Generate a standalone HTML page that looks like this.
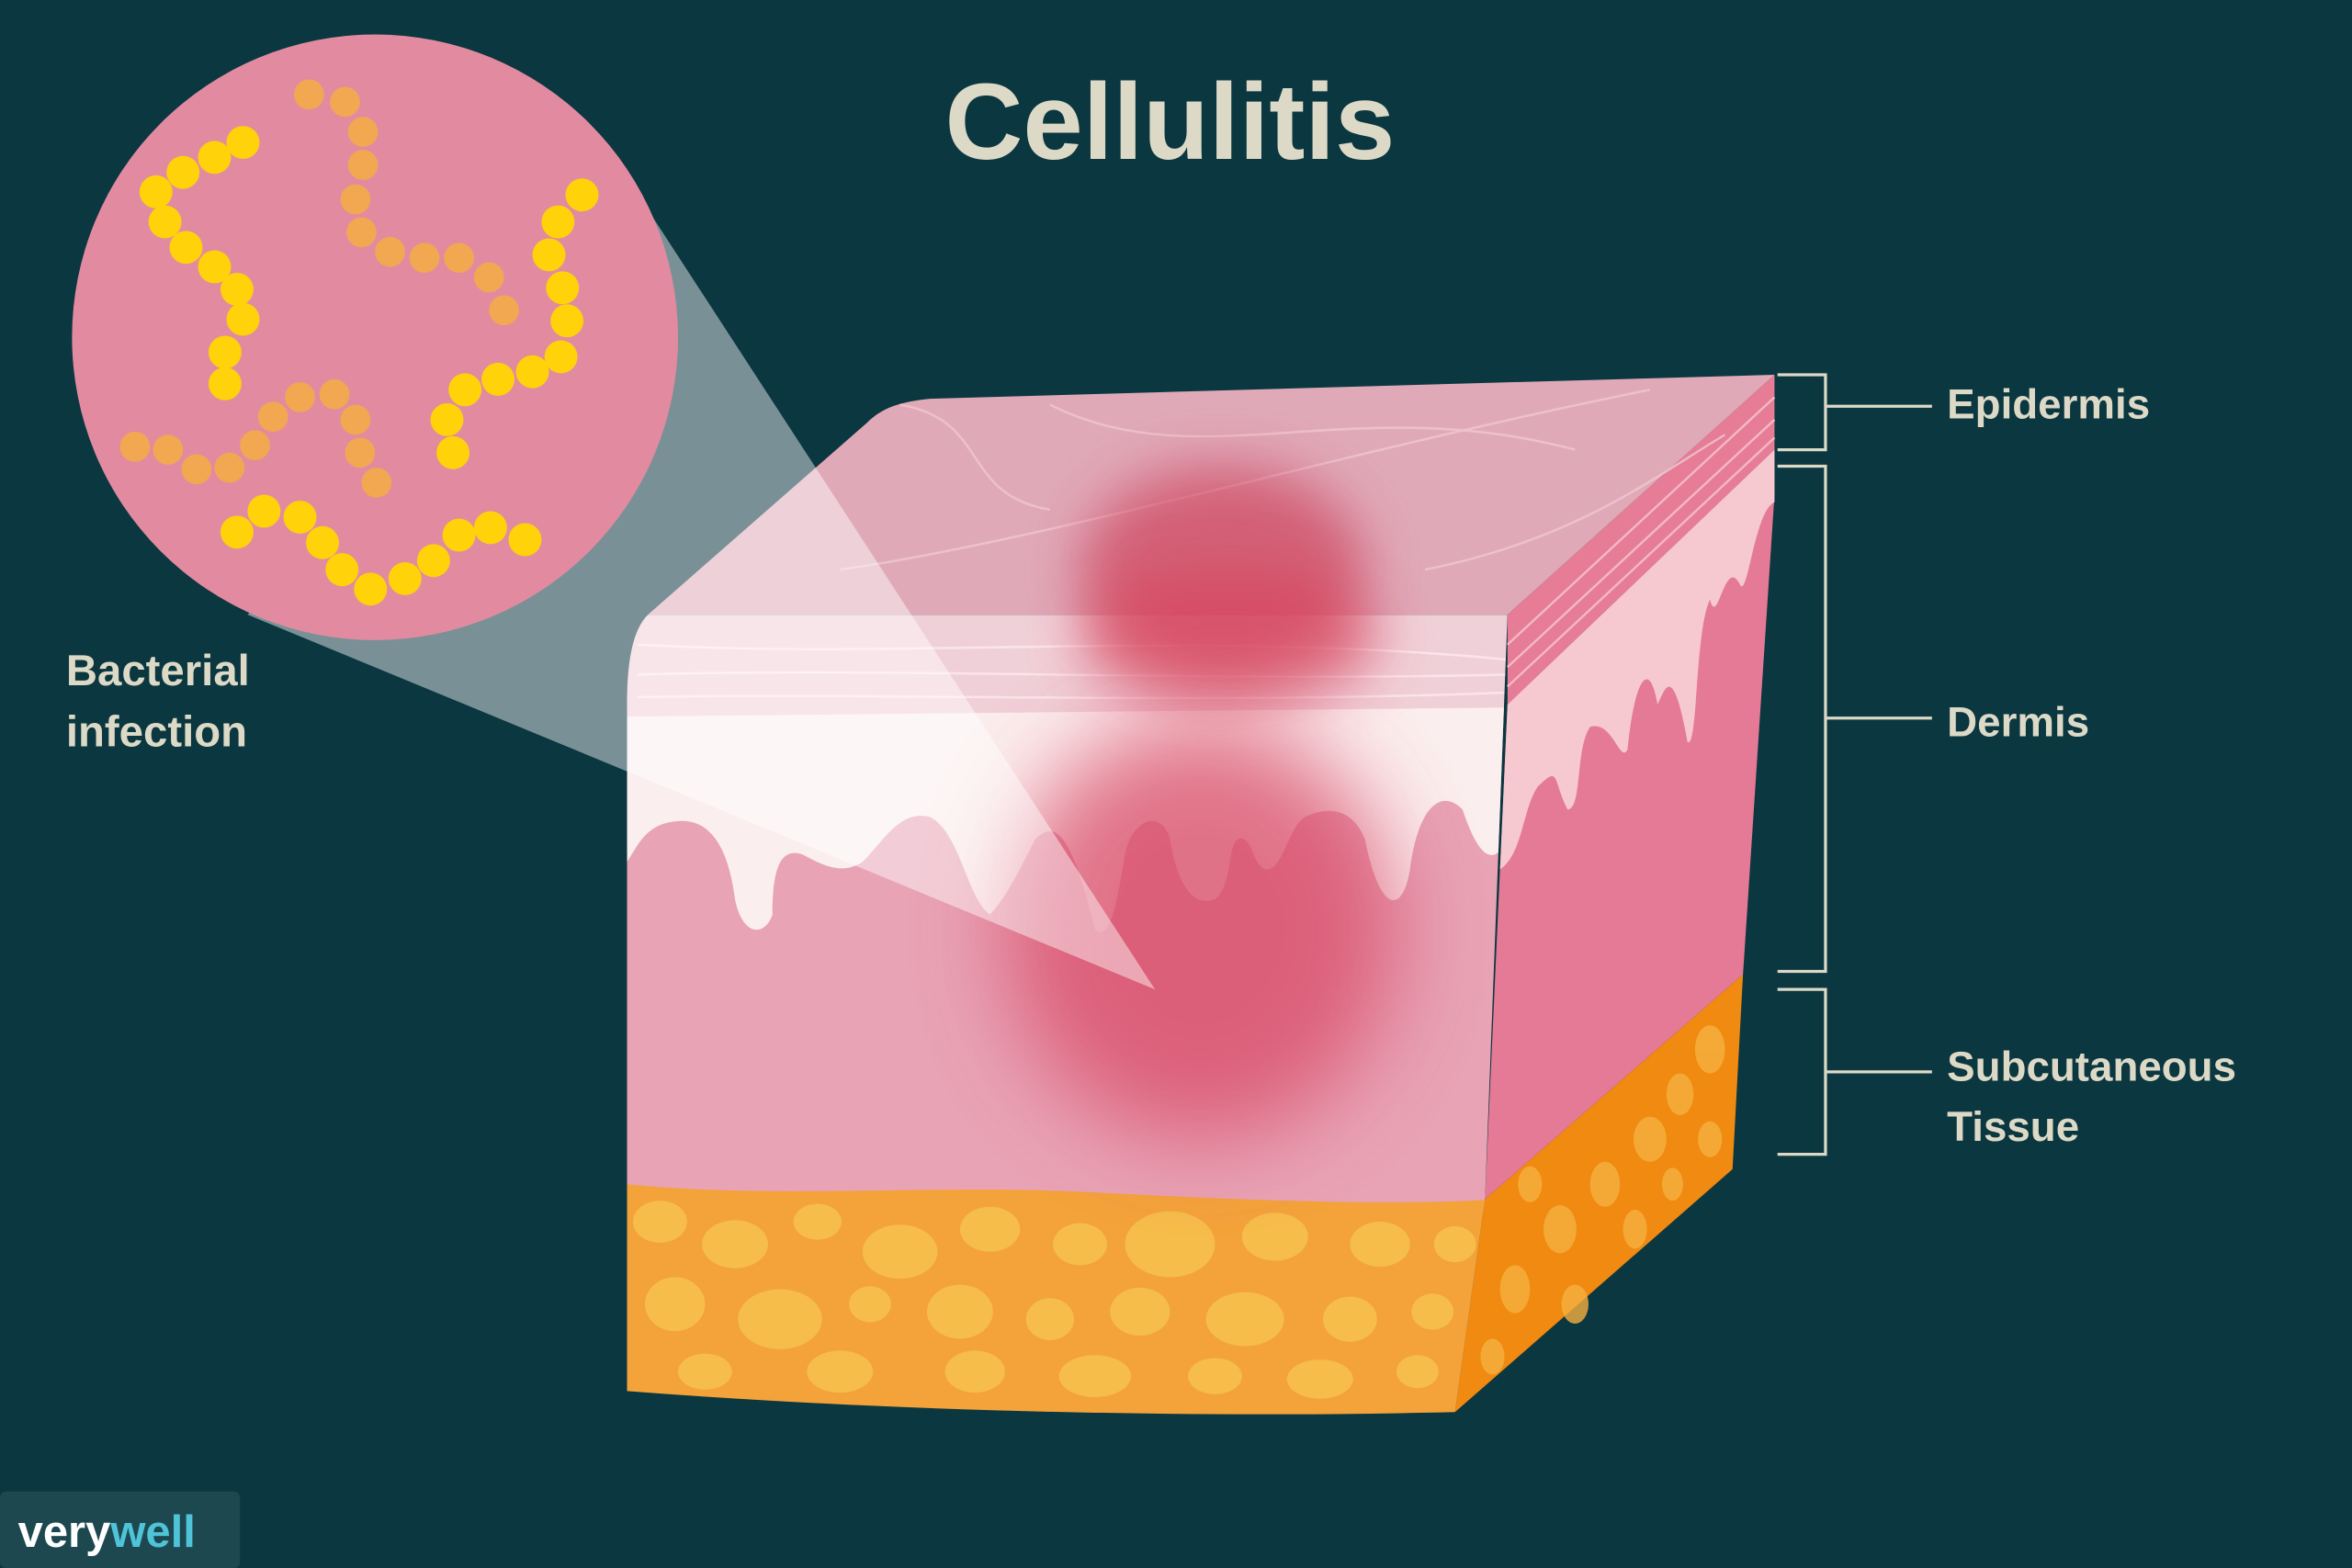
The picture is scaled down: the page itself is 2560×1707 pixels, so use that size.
<!DOCTYPE html>
<html><head><meta charset="utf-8"><style>
html,body{margin:0;padding:0;background:#0b3740;}
svg{display:block}
text{font-family:"Liberation Sans",sans-serif;font-weight:bold;fill:#dcd9c7}
</style></head><body>
<svg width="2560" height="1707" viewBox="0 0 1568 1046" preserveAspectRatio="none" xmlns="http://www.w3.org/2000/svg">
<defs>
<filter id="b1" x="-50%" y="-50%" width="200%" height="200%"><feGaussianBlur stdDeviation="30"/></filter>
<filter id="b2" x="-50%" y="-50%" width="200%" height="200%"><feGaussianBlur stdDeviation="18"/></filter>
<clipPath id="front"><path d="M432,410 L1005,410 L990,800 L970,942 C800,946 600,942 418,928 L418,470 C418,440 422,420 432,410 Z"/></clipPath>
</defs>
<rect width="1568" height="1046" fill="#0b3740"/>
<text x="780" y="106" font-size="72" text-anchor="middle">Cellulitis</text>

<!-- right face -->
<polygon points="1005,410 1183,250 1183,300 1005,470" fill="#e67c95"/>
<g stroke="#f3b8c6" stroke-width="1.5" fill="none">
<line x1="1005" y1="430" x2="1183" y2="265"/><line x1="1005" y1="445" x2="1183" y2="280"/><line x1="1005" y1="458" x2="1183" y2="292"/>
</g>
<polygon points="1005,470 1183,300 1183,330 1162,650 990,800" fill="#e47a95"/>
<path d="M1005,470 L1183,300 L1183,335 C1170,340 1165,400 1160,390 C1150,370 1145,420 1140,400 C1130,420 1132,500 1125,495 C1115,440 1110,460 1105,470 C1100,440 1090,450 1085,500 C1080,510 1075,480 1060,485 C1050,500 1055,540 1045,540 C1035,520 1040,510 1025,525 C1015,540 1015,570 1000,580 Z" fill="#f6c8d0"/>
<polygon points="990,800 1162,650 1155,780 970,942" fill="#f08a10"/>
<g fill="#f6b040" opacity="0.8">
<ellipse cx="1140" cy="700" rx="10" ry="16"/><ellipse cx="1120" cy="730" rx="9" ry="14"/><ellipse cx="1100" cy="760" rx="11" ry="15"/><ellipse cx="1140" cy="760" rx="8" ry="12"/><ellipse cx="1070" cy="790" rx="10" ry="15"/><ellipse cx="1040" cy="820" rx="11" ry="16"/><ellipse cx="1090" cy="820" rx="8" ry="13"/><ellipse cx="1010" cy="860" rx="10" ry="16"/><ellipse cx="1050" cy="870" rx="9" ry="13"/><ellipse cx="995" cy="905" rx="8" ry="12"/><ellipse cx="1020" cy="790" rx="8" ry="12"/><ellipse cx="1115" cy="790" rx="7" ry="11"/>
</g>

<!-- top face -->
<path d="M432,410 L578,282 C588,272 600,268 620,266 L1183,250 L1005,410 Z" fill="#e0a9b8"/>
<g stroke="#f0c8d2" stroke-width="1.5" fill="none" opacity="0.8">
<path d="M600,270 C660,280 640,330 700,340"/><path d="M560,380 C700,360 900,300 1100,260"/><path d="M700,270 C800,320 900,260 1050,300"/><path d="M950,380 C1050,360 1100,320 1150,290"/>
</g>

<!-- front face -->
<g clip-path="url(#front)">
<rect x="418" y="405" width="590" height="75" fill="#f0d0d8"/>
<rect x="418" y="478" width="590" height="330" fill="#e8a3b5"/>
<path d="M418,478 L1005,472 L1005,560 C995,580 985,570 975,540 C960,525 945,540 940,580 C935,610 920,610 910,560 C900,535 880,540 870,545 C860,550 855,580 845,580 C835,580 835,555 825,560 C818,565 822,590 810,600 C795,605 785,590 780,560 C775,540 755,545 750,570 C745,600 740,630 730,620 C715,560 705,545 690,560 C680,580 670,600 660,610 C645,600 640,555 620,545 C600,540 590,560 575,575 C560,585 545,575 535,570 C520,565 515,580 515,610 C510,625 495,625 490,600 C485,560 470,545 450,548 C430,550 425,565 418,575 Z" fill="#fbeeee"/>
<g stroke="#fbe5ea" stroke-width="1.5" fill="none">
<path d="M425,430 C600,440 800,420 1005,440"/><path d="M425,450 C600,445 800,455 1005,450"/><path d="M425,465 C600,462 800,470 1005,462"/>
</g>
<path d="M418,790 C520,800 620,790 720,795 C820,800 920,805 1000,800 L990,950 L418,950 Z" fill="#f3a33a"/>
<g fill="#f7c24e" opacity="0.85">
<ellipse cx="440" cy="815" rx="18" ry="14"/><ellipse cx="490" cy="830" rx="22" ry="16"/><ellipse cx="545" cy="815" rx="16" ry="12"/><ellipse cx="600" cy="835" rx="25" ry="18"/><ellipse cx="660" cy="820" rx="20" ry="15"/><ellipse cx="720" cy="830" rx="18" ry="14"/><ellipse cx="780" cy="830" rx="30" ry="22"/><ellipse cx="850" cy="825" rx="22" ry="16"/><ellipse cx="920" cy="830" rx="20" ry="15"/><ellipse cx="970" cy="830" rx="14" ry="12"/>
<ellipse cx="450" cy="870" rx="20" ry="18"/><ellipse cx="520" cy="880" rx="28" ry="20"/><ellipse cx="580" cy="870" rx="14" ry="12"/><ellipse cx="640" cy="875" rx="22" ry="18"/><ellipse cx="700" cy="880" rx="16" ry="14"/><ellipse cx="760" cy="875" rx="20" ry="16"/><ellipse cx="830" cy="880" rx="26" ry="18"/><ellipse cx="900" cy="880" rx="18" ry="15"/><ellipse cx="955" cy="875" rx="14" ry="12"/>
<ellipse cx="470" cy="915" rx="18" ry="12"/><ellipse cx="560" cy="915" rx="22" ry="14"/><ellipse cx="650" cy="915" rx="20" ry="14"/><ellipse cx="730" cy="918" rx="24" ry="14"/><ellipse cx="810" cy="918" rx="18" ry="12"/><ellipse cx="880" cy="920" rx="22" ry="13"/><ellipse cx="945" cy="915" rx="14" ry="11"/>
</g>
<ellipse cx="800" cy="620" rx="130" ry="140" fill="#d84a66" opacity="0.75" filter="url(#b1)"/>
</g>
<ellipse cx="815" cy="380" rx="95" ry="70" fill="#cc3a55" opacity="0.65" filter="url(#b2)"/>
<ellipse cx="820" cy="425" rx="100" ry="45" fill="#d8405a" opacity="0.6" filter="url(#b2)"/>

<!-- cone -->
<polygon points="432,140 770,660 165,410" fill="#ffffff" opacity="0.45"/>
<circle cx="250" cy="225" r="202" fill="#e28ba0"/>
<g fill="#f2a850">
<circle cx="206" cy="63" r="10"/><circle cx="230" cy="68" r="10"/><circle cx="242" cy="88" r="10"/><circle cx="242" cy="110" r="10"/><circle cx="237" cy="133" r="10"/><circle cx="241" cy="155" r="10"/><circle cx="260" cy="168" r="10"/><circle cx="283" cy="172" r="10"/><circle cx="306" cy="172" r="10"/><circle cx="326" cy="185" r="10"/><circle cx="336" cy="207" r="10"/>
<circle cx="90" cy="298" r="10"/><circle cx="112" cy="300" r="10"/><circle cx="131" cy="313" r="10"/><circle cx="153" cy="312" r="10"/><circle cx="170" cy="297" r="10"/><circle cx="182" cy="278" r="10"/><circle cx="200" cy="265" r="10"/><circle cx="223" cy="263" r="10"/><circle cx="237" cy="280" r="10"/><circle cx="240" cy="302" r="10"/><circle cx="251" cy="322" r="10"/>
</g>
<g fill="#ffd20a">
<circle cx="162" cy="95" r="11"/><circle cx="143" cy="105" r="11"/><circle cx="122" cy="115" r="11"/><circle cx="104" cy="128" r="11"/><circle cx="110" cy="148" r="11"/><circle cx="124" cy="165" r="11"/><circle cx="143" cy="178" r="11"/><circle cx="158" cy="193" r="11"/><circle cx="162" cy="213" r="11"/><circle cx="150" cy="235" r="11"/><circle cx="150" cy="256" r="11"/>
<circle cx="388" cy="130" r="11"/><circle cx="372" cy="148" r="11"/><circle cx="366" cy="170" r="11"/><circle cx="375" cy="192" r="11"/><circle cx="378" cy="214" r="11"/><circle cx="374" cy="238" r="11"/><circle cx="355" cy="248" r="11"/><circle cx="332" cy="253" r="11"/><circle cx="310" cy="260" r="11"/><circle cx="298" cy="280" r="11"/><circle cx="302" cy="302" r="11"/>
<circle cx="158" cy="355" r="11"/><circle cx="176" cy="341" r="11"/><circle cx="200" cy="345" r="11"/><circle cx="215" cy="362" r="11"/><circle cx="228" cy="380" r="11"/><circle cx="247" cy="393" r="11"/><circle cx="270" cy="386" r="11"/><circle cx="289" cy="374" r="11"/><circle cx="306" cy="357" r="11"/><circle cx="327" cy="352" r="11"/><circle cx="350" cy="360" r="11"/>
</g>

<text x="44" y="457" font-size="29">Bacterial</text>
<text x="44" y="498" font-size="29">infection</text>

<!-- brackets -->
<g stroke="#dcd9c7" stroke-width="2" fill="none">
<polyline points="1185,250 1217,250 1217,300 1185,300"/><line x1="1217" y1="271" x2="1288" y2="271"/>
<polyline points="1185,311 1217,311 1217,648 1185,648"/><line x1="1217" y1="479" x2="1288" y2="479"/>
<polyline points="1185,660 1217,660 1217,770 1185,770"/><line x1="1217" y1="715" x2="1288" y2="715"/>
</g>
<text x="1298" y="279" font-size="28">Epidermis</text>
<text x="1298" y="491" font-size="28">Dermis</text>
<text x="1298" y="721" font-size="28">Subcutaneous</text>
<text x="1298" y="761" font-size="28">Tissue</text>

<rect x="0" y="995" width="160" height="51" rx="4" fill="#1d4850"/>
<text x="12" y="1032" font-size="30" style="fill:#ffffff">very<tspan style="fill:#4fc3d8">well</tspan></text>
</svg>
</body></html>
